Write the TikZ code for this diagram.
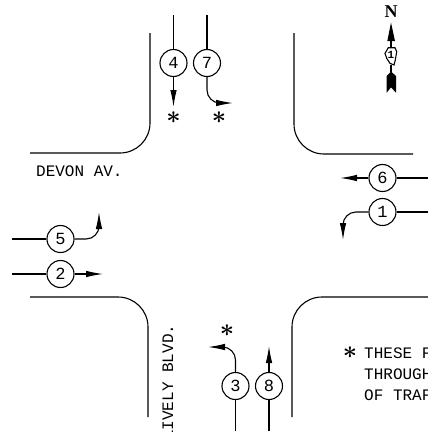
\documentclass[tikz,border=0pt]{standalone}
\usepackage{fontspec}
\setmainfont{Liberation Mono}
\usetikzlibrary{arrows.meta}
\tikzset{
	curb/.style={line width=1.1pt,rounded corners=30pt},
	flow/.style={line width=1.1pt,-{Latex[length=17pt,width=6.5pt]}},
	turnflow/.style={flow,rounded corners=13pt},
	lane/.style={line width=1.1pt},
	phase/.style={circle,draw,line width=1.1pt,minimum size=27pt,inner sep=0pt,font=\fontsize{17}{17}\selectfont},
	lettering/.style={anchor=base west,inner sep=0pt,font=\fontsize{16}{16}\selectfont},
	starmark/.style={inner sep=0pt,font=\fontsize{24}{24}\selectfont\boldmath}
}
\begin{document}
\begin{tikzpicture}[x=1pt,y=-1pt]
	\useasboundingbox (0,0) rectangle (428,432);
	% curbs
	\draw[curb] (150,33) |- (30,153);
	\draw[curb] (294,33) |- (413,154);
	\draw[curb] (30,297) -| (148,417);
	\draw[curb] (428,297) -| (292,417);
	% north approach
	\node[phase] (n4) at (173.5,63) {4};
	\node[phase] (n7) at (207,63) {7};
	\coordinate (top4) at (173.5,15);
	\coordinate (top7) at (207,15);
	\coordinate (end4) at (173.5,107);
	\coordinate (end7) at (233,103);
	\draw[lane] (top4)--(n4);
	\draw[lane] (top7)--(n7);
	\draw[flow] (n4)--(end4);
	\draw[turnflow] (n7.south) |- (end7);
	% west approach
	\node[phase] (n5) at (60.5,239) {5};
	\node[phase] (n2) at (60.5,274) {2};
	\coordinate (left5) at (12,239);
	\coordinate (left2) at (12,274);
	\coordinate (end5) at (99,212);
	\coordinate (end2) at (103,274);
	\draw[lane] (left5)--(n5);
	\draw[lane] (left2)--(n2);
	\draw[turnflow] (n5.east) -| (end5);
	\draw[flow] (n2)--(end2);
	% east approach
	\node[phase] (n6) at (382.5,178) {6};
	\node[phase] (n1) at (382.5,212) {1};
	\coordinate (right6) at (428,178);
	\coordinate (right1) at (428,212);
	\coordinate (end6) at (340,178);
	\coordinate (end1) at (343,240);
	\draw[lane] (right6)--(n6);
	\draw[lane] (right1)--(n1);
	\draw[flow] (n6)--(end6);
	\draw[turnflow] (n1.west) -| (end1);
	% south approach
	\node[phase] (n3) at (235.5,386) {3};
	\node[phase] (n8) at (269,386) {8};
	\coordinate (low3) at (235.5,431);
	\coordinate (low8) at (269,431);
	\coordinate (end3) at (208,347);
	\coordinate (end8) at (269,346);
	\draw[lane] (low3)--(n3);
	\draw[lane] (low8)--(n8);
	\draw[turnflow] (n3.north) |- (end3);
	\draw[flow] (n8)--(end8);
	% stars
	\node[starmark] (s4) at (173.5,118) {$\ast$};
	\node[starmark] (s7) at (219,118) {$\ast$};
	\node[starmark] (s3) at (227,331) {$\ast$};
	\node[starmark] (s0) at (350,353) {$\ast$};
	% street names and note
	\node[lettering] (devon) at (36,176) {DEVON AV.};
	\node[lettering,rotate=90] (lively) at (173,440) {LIVELY BLVD.};
	\node[lettering] (note1) at (364,358) {THESE F};
	\node[lettering] (note2) at (364,379) {THROUGH};
	\node[lettering] (note3) at (364,400) {OF TRAF};
	% north arrow
	\node[inner sep=0pt,font=\fontspec{Liberation Serif}\bfseries\fontsize{18}{18}\selectfont] (north) at (391,12) {N};
	\fill (391,22.5)--(395,41)--(387.3,41)--cycle;
	\draw[line width=1.4pt] (391,41)--(391,48);
	\draw[line width=1.1pt] (388.3,47.7)--(395,47.7)--(396.7,51.7)--(395.3,60)--(394,65)--(390,63.3)--(386.7,58.3)--(385,53.3)--cycle;
	\node[inner sep=0pt,font=\bfseries\fontsize{11}{11}\selectfont] (illinois) at (391,55) {1};
	\draw[line width=1.4pt] (391,65)--(391,72);
	\fill (391,71.5)--(396,76)--(396,92.7)--(391,87.3)--(386.7,92.7)--(386.7,76)--cycle;
\end{tikzpicture}
\end{document}
